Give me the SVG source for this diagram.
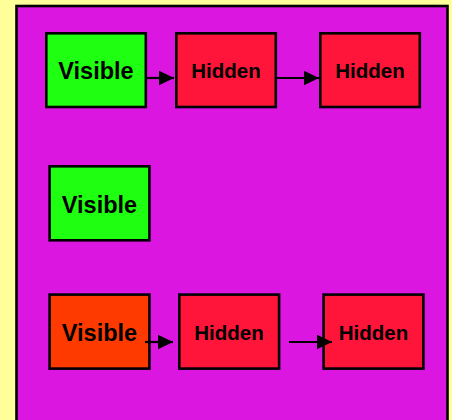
<svg xmlns="http://www.w3.org/2000/svg" width="452" height="420" viewBox="0 0 452 420">
<style>
.box{stroke:#000;stroke-width:2.6}
.vis{fill:#1EFF12}
.hid{fill:#FF1539}
.org{fill:#FF3A00}
.t{font-family:"Liberation Sans",Arial,sans-serif;font-weight:bold;fill:#000;text-anchor:middle}
.tv{font-size:23.5px}
.th{font-size:20.5px}
.edge{stroke:#000;stroke-width:2.2;fill:none;marker-end:url(#ah)}
</style>
<defs>
<marker id="ah" markerUnits="userSpaceOnUse" markerWidth="17" markerHeight="17" refX="15.5" refY="7.5" orient="auto">
<path d="M0,0 L15.5,7.5 L0,15 Z" fill="#000"/>
</marker>
</defs>
<rect x="0" y="0" width="452" height="420" fill="#FFFF99"/>
<rect id="container" x="16.5" y="6" width="431" height="430" fill="#DA16E0" stroke="#000" stroke-width="2.6"/>
<g id="n1"><rect class="box vis" x="46.3" y="33.3" width="99.5" height="73.7"/><text class="t tv" x="96" y="79.3">Visible</text></g>
<g id="n2"><rect class="box hid" x="176.3" y="33.3" width="99.5" height="73.7"/><text class="t th" x="226" y="77.7">Hidden</text></g>
<g id="n3"><rect class="box hid" x="320.3" y="33.3" width="99.5" height="73.7"/><text class="t th" x="370" y="77.7">Hidden</text></g>
<g id="n4"><rect class="box vis" x="49.6" y="166.3" width="99.8" height="74"/><text class="t tv" x="99.5" y="212.7">Visible</text></g>
<g id="n5"><rect class="box org" x="49.6" y="294.6" width="99.8" height="74"/><text class="t tv" x="99.5" y="341">Visible</text></g>
<g id="n6"><rect class="box hid" x="179.3" y="294.6" width="99.8" height="74"/><text class="t th" x="229" y="340">Hidden</text></g>
<g id="n7"><rect class="box hid" x="323.6" y="294.6" width="99.8" height="74"/><text class="t th" x="373.5" y="340">Hidden</text></g>
<g id="connectors">
<line class="edge" x1="147" y1="78" x2="174" y2="78"/>
<line class="edge" x1="277" y1="78" x2="319" y2="78"/>
<line class="edge" x1="145" y1="342" x2="173" y2="342"/>
<line class="edge" x1="289" y1="342" x2="332" y2="342"/>
</g>
</svg>
